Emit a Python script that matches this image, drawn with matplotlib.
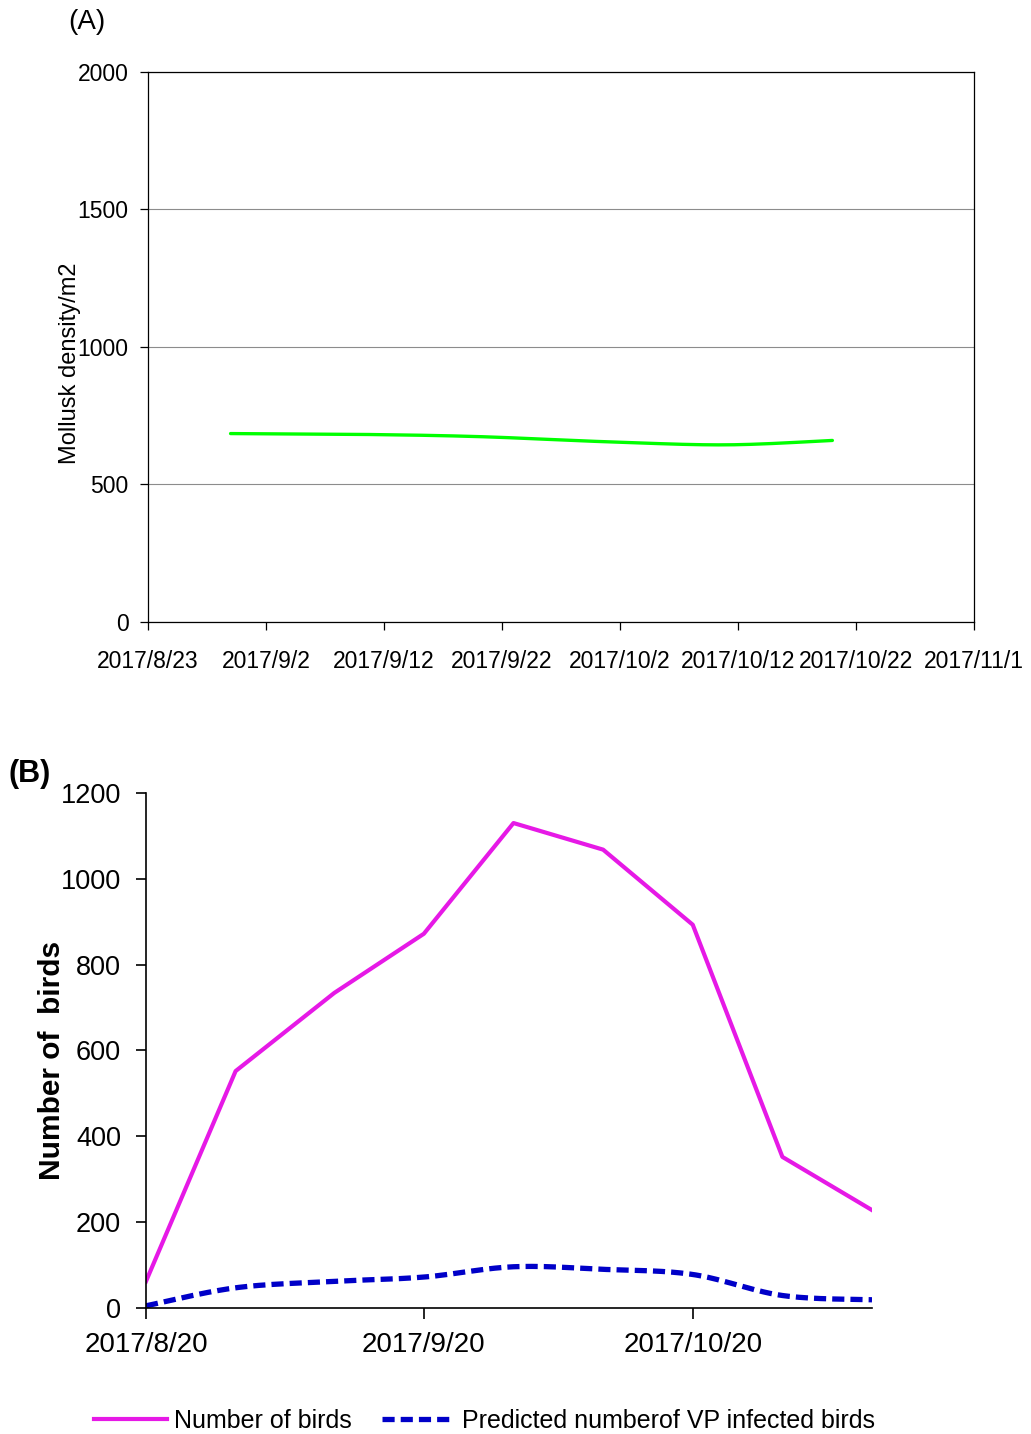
"""
Two-panel chart: mollusk density (A) and bird counts (B), autumn 2017.
"""

import datetime as dt

import numpy as np
import matplotlib

matplotlib.use("Agg")
import matplotlib.pyplot as plt
import matplotlib.dates as mdates
from matplotlib.ticker import FuncFormatter

plt.rcParams["font.family"] = ["Liberation Sans", "DejaVu Sans"]

# Panel A: mollusk density
mollusk_dates = ["2017-08-30", "2017-09-10", "2017-09-20", "2017-10-01", "2017-10-11", "2017-10-20"]
mollusk_density = [685, 682, 674, 655, 644, 660]

# Panel B: bird counts
bird_dates = ["2017-08-20", "2017-08-30", "2017-09-10", "2017-09-20", "2017-09-30",
              "2017-10-10", "2017-10-20", "2017-10-30", "2017-11-09"]
bird_counts = [62, 552, 734, 872, 1130, 1068, 893, 352, 228]
infected_birds = [5, 47, 62, 72, 96, 90, 78, 29, 19]


def to_num(dates):
    return mdates.date2num([dt.datetime.strptime(d, "%Y-%m-%d") for d in dates])


def smooth(x, y, n=30):
    # Excel-style smoothed line: Bezier segments with Catmull-Rom control points
    x = np.asarray(x, float)
    y = np.asarray(y, float)
    px = np.concatenate([[x[0]], x, [x[-1]]])
    py = np.concatenate([[y[0]], y, [y[-1]]])
    xs, ys = [], []
    t = np.linspace(0, 1, n)
    for i in range(len(x) - 1):
        p0 = np.array([px[i + 1], py[i + 1]])
        p3 = np.array([px[i + 2], py[i + 2]])
        c1 = p0 + (np.array([px[i + 2], py[i + 2]]) - np.array([px[i], py[i]])) / 6
        c2 = p3 - (np.array([px[i + 3], py[i + 3]]) - np.array([px[i + 1], py[i + 1]])) / 6
        bx = (1 - t) ** 3 * p0[0] + 3 * (1 - t) ** 2 * t * c1[0] + 3 * (1 - t) * t ** 2 * c2[0] + t ** 3 * p3[0]
        by = (1 - t) ** 3 * p0[1] + 3 * (1 - t) ** 2 * t * c1[1] + 3 * (1 - t) * t ** 2 * c2[1] + t ** 3 * p3[1]
        xs.append(bx)
        ys.append(by)
    return np.concatenate(xs), np.concatenate(ys)


def date_label(v, pos=None):
    d = mdates.num2date(v)
    return f"{d.year}/{d.month}/{d.day}"


fig = plt.figure(figsize=(10.31, 14.34), dpi=100)

# ---------------- Panel A ----------------
axA = fig.add_axes([0.1435, 0.5663, 0.8012, 0.3835])
xa, ya = smooth(to_num(mollusk_dates), mollusk_density)
axA.plot(xa, ya, color="#00ff00", lw=2.4, solid_capstyle="round")
start_a = mdates.date2num(dt.datetime(2017, 8, 23))
axA.set_xlim(start_a, start_a + 70)
axA.set_xticks([start_a + 10 * i for i in range(8)])
axA.xaxis.set_major_formatter(FuncFormatter(date_label))
axA.set_ylim(0, 2000)
axA.set_yticks([0, 500, 1000, 1500, 2000])
axA.yaxis.grid(True, color="#8c8c8c", lw=0.8)
axA.set_axisbelow(True)
for s in axA.spines.values():
    s.set_color("black")
    s.set_linewidth(0.9)
axA.tick_params(axis="y", direction="out", length=6, width=0.9, pad=8, labelsize=16.5)
axA.tick_params(axis="x", direction="out", length=6, width=0.9, pad=14, labelsize=16.5)
axA.set_ylabel("Mollusk density/m2", fontsize=17)
axA.yaxis.set_label_coords(-0.081, 0.47)
fig.text(0.066, 0.985, "(A)", fontsize=20, ha="left", va="center")

# ---------------- Panel B ----------------
axB = fig.add_axes([0.1416, 0.0879, 0.7042, 0.3591])
xb = to_num(bird_dates)
axB.plot(xb, bird_counts, color="#e619e6", lw=3.0, label="Number of birds")
sx, sy = smooth(xb, infected_birds)
axB.plot(sx, sy, color="#0000c8", lw=3.8, dashes=(2.3, 1.15), dash_capstyle="butt",
         label="Predicted numberof VP infected birds")
start_b = mdates.date2num(dt.datetime(2017, 8, 20))
axB.set_xlim(start_b, xb[-1])
axB.set_xticks(to_num(["2017-08-20", "2017-09-20", "2017-10-20"]))
axB.xaxis.set_major_formatter(FuncFormatter(date_label))
axB.set_ylim(0, 1200)
axB.set_yticks(range(0, 1201, 200))
axB.spines["top"].set_visible(False)
axB.spines["right"].set_visible(False)
for s in ("left", "bottom"):
    axB.spines[s].set_linewidth(1.2)
axB.tick_params(axis="y", direction="out", length=7, width=1.2, pad=11, labelsize=19.5)
axB.tick_params(axis="x", direction="out", length=8, width=1.2, pad=9, labelsize=20)
axB.set_ylabel("Number of  birds", fontsize=21.5, fontweight="bold")
axB.yaxis.set_label_coords(-0.11, 0.48)
fig.text(0.008, 0.46, "(B)", fontsize=22, fontweight="bold", ha="left", va="center")

fig.legend(loc="center", bbox_to_anchor=(0.47, 0.009), ncol=2, frameon=False,
           fontsize=18, handlelength=2.9, handletextpad=0.3, columnspacing=1.2)

fig.savefig("out.png", dpi=100)
